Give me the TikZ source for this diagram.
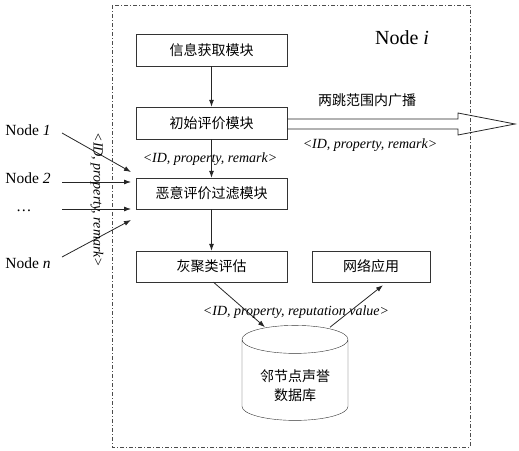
\documentclass[tikz,border=0pt]{standalone}
\usepackage{fontspec}
\setmainfont{Liberation Serif}
\newfontfamily\cjk{Noto Sans CJK SC}
\usetikzlibrary{arrows.meta, positioning, shapes.geometric}

\begin{document}
\begin{tikzpicture}[x=1pt, y=-1pt,
  box/.style={rectangle, draw=black!80, align=center, font=\cjk\fontsize{14}{16}\selectfont,
              minimum width=151pt, minimum height=32pt, inner sep=0pt},
  msg/.style={font=\itshape\fontsize{14}{16}\selectfont, inner sep=1pt},
  src/.style={font=\fontsize{15.5}{18}\selectfont, inner sep=1pt},
  arrow/.style={-{Latex[length=7pt, width=5pt]}, thick, draw=black!85},
  frame/.style={draw=black!70, dash pattern=on 4pt off 2pt on 1pt off 2pt}
]
\useasboundingbox (0,0) rectangle (519,450);
\draw[frame] (112,5) rectangle (470,447);
\node[font=\fontsize{20}{22}\selectfont] (title) at (402,38) {Node \textit{i}};

% modules inside node i
\node[box] (info) at (211.5,50) {信息获取模块};
\node[box] (init) at (211.5,123) {初始评价模块};
\node[box, minimum height=31pt] (filter) at (211.5,193.5) {恶意评价过滤模块};
\node[box, minimum height=31pt] (grey) at (211.5,266.5) {灰聚类评估};
\node[box, minimum height=31pt, minimum width=118pt] (app) at (371,266.5) {网络应用};
\node[cylinder, shape border rotate=90, draw=black!80, aspect=0.4,
      minimum width=106pt, minimum height=95pt, align=center, inner sep=0pt,
      font=\cjk\fontsize{14}{19}\selectfont] (db) at (295,380) {\\[4pt]邻节点声誉\\数据库};

\draw[arrow] (info) -- (init);
\draw[arrow] (init) -- (filter);
\draw[arrow] (filter) -- (grey);
\draw[arrow] ([xshift=2pt]grey.south) -- ([xshift=-30pt, yshift=-2pt]db.north);
\draw[arrow] ([xshift=35pt, yshift=-2pt]db.north) -- ([xshift=12pt, yshift=-3pt]app.south);

% broadcast to two-hop range
\draw[draw=black!85, thick] (init.east |- 0,119) -- (458,119) -- (458,113) -- (515,124)
  -- (458,135) -- (458,129) -- (init.east |- 0,129);
\node[font=\cjk\fontsize{14}{16}\selectfont] (bcast) at (367,100) {两跳范围内广播};
\node[msg] (m1) at (370,145) {<ID, property, remark>};
\node[msg] (m2) at (210,159) {<ID, property, remark>};
\node[msg] (m3) at (296,312) {<ID, property, reputation value>};

% neighbouring nodes
\node[src] (n1) at (28,130) {Node \textit{1}};
\node[src] (n2) at (28,178) {Node \textit{2}};
\node[src] (n3) at (24,211) {\dots};
\node[src] (nn) at (28,263) {Node \textit{n}};
\coordinate (in1) at (131,172);
\coordinate (in2) at (131,182);
\coordinate (in3) at (131,209);
\coordinate (inn) at (131,220);
\draw[arrow] (62,133) -- (in1);
\draw[arrow] (62,182) -- (in2);
\draw[arrow] (62,209) -- (in3);
\draw[arrow] (62,257) -- (inn);
\node[msg, rotate=-90] (m4) at (97,200) {<ID, property, remark>};
\end{tikzpicture}
\end{document}
